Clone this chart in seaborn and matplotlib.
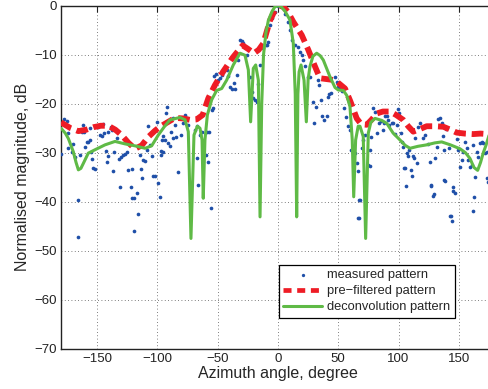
import numpy as np
import matplotlib
matplotlib.use('Agg')
import matplotlib.pyplot as plt
import seaborn as sns

# ---- values ------------------------------------------------------------
# measured pattern (blue dots)
meas_x = [-180, -177.3, -175.3, -173.9, -173.9, -171.1, -169.8, -168.4, -166.2, -165.6,
          -164.2, -162.8, -161.5, -160.7, -160.1, -158.7, -157.4, -155.9, -155.9, -155.1,
          -154.0, -153.2, -151.8, -149.1, -147.7, -146.2, -144.9, -144.1, -142.9, -142.1,
          -141.3, -140.8, -138.5, -137.9, -136.6, -135.8, -134.6, -133.3, -131.9, -131.1,
          -130.2, -128.3, -126.9, -125.5, -124.2, -121.9, -121.4, -120.9, -119.2, -119.2,
          -117.2, -115.9, -114.5, -113.6, -113.1, -111.7, -110.3, -108.9, -107.6, -106.2,
          -104.8, -103.4, -102.0, -100.6, -99.3, -97.9, -97.1, -96.0, -97.3, -95.6,
          -95.1, -93.7, -92.9, -91.8, -91.0, -89.6, -89.0, -87.4, -86.8, -85.4,
          -84.6, -82.7, -81.9, -80.7, -79.1, -77.1, -75.7, -74.4, -68.9, -67.4,
          -66.9, -66.1, -64.7, -63.3, -59.7, -58.6, -57.8, -57.0, -55.8, -55.0,
          -53.7, -52.8, -51.4, -49.5, -48.1, -46.7, -45.4, -44.0, -42.6, -41.2,
          -39.8, -38.4, -36.5, -35.7, -34.3, -32.9, -31.5, -30.1, -28.8, -27.4,
          -25.5, -23.2, -21.8, -20.5, -19.1, -17.7, -16.3, -14.9, -12.2, -9.9,
          -8.0, -9.4, -6.6, -4.7, -2.5, 0.2, 3.0, 5.7, 8.0, 9.9,
          11.8, 14.1, 16.3, 18.2, 19.7, 21.0, 22.4, 24.6, 26.5, 29.3,
          30.1, 31.3, 32.9, 34.0, 35.7, 36.8, 38.4, 40.4, 41.2, 42.3,
          44.0, 47.3, 48.7, 50.1, 51.4, 53.3, 55.0, 56.4, 58.3, 59.7,
          60.5, 63.9, 65.3, 66.1, 68.0, 67.2, 69.4, 70.7, 72.1, 74.9,
          76.3, 77.1, 79.1, 76.3, 80.5, 82.4, 84.0, 85.2, 86.8, 87.9,
          88.7, 90.2, 91.5, 92.3, 94.3, 95.7, 97.1, 98.5, 99.3, 100.6,
          101.8, 102.6, 104.0, 104.8, 106.0, 106.8, 108.1, 109.0, 110.1, 110.9,
          111.8, 112.8, 113.7, 115.0, 116.4, 117.8, 119.2, 120.5, 121.9, 124.7,
          126.1, 126.9, 128.3, 129.4, 130.2, 131.6, 132.9, 134.4, 135.8, 136.6,
          137.7, 138.5, 139.3, 140.4, 142.1, 143.2, 144.1, 145.4, 146.8, 148.7,
          149.5, 151.0, 152.4, 153.7, 155.1, 156.5, 157.8, 159.3, 160.7, 162.0,
          162.6, 163.7, 164.8, 166.2, 167.6, 169.0, 170.3, 171.7, 173.1, 173.6,
          174.4, 126.6, 137.7, 142.7, 145.0, 162.0, 105.3, 67.4, 66.6]
meas_y = [-30.3, -23.2, -23.5, -26.0, -29.1, -29.8, -28.2, -30.8, -39.7, -47.3,
          -30.5, -25.7, -24.3, -25.7, -28.8, -27.8, -27.8, -27.4, -25.0, -29.8,
          -31.3, -33.2, -33.4, -24.7, -26.4, -26.6, -24.1, -25.9, -29.6, -31.8,
          -30.7, -25.7, -24.7, -25.4, -33.7, -29.8, -25.4, -27.1, -31.3, -37.1,
          -30.8, -30.5, -30.3, -29.8, -33.5, -37.1, -33.4, -39.3, -39.3, -45.9,
          -38.3, -42.6, -30.5, -33.4, -35.2, -31.5, -31.6, -29.4, -24.6, -28.4,
          -30.7, -34.7, -34.7, -23.8, -36.2, -39.0, -29.6, -27.4, -30.5, -29.8,
          -26.6, -27.4, -21.8, -20.6, -28.1, -28.6, -25.7, -26.9, -23.0, -24.3,
          -26.7, -33.9, -23.0, -26.4, -24.0, -22.3, -23.0, -24.3, -25.4, -24.6,
          -31.1, -36.6, -26.4, -25.7, -30.5, -25.7, -32.0, -25.7, -41.3, -21.3,
          -20.9, -14.3, -13.9, -15.2, -14.8, -14.1, -13.5, -12.8, -13.1, -14.3,
          -16.6, -17.1, -15.7, -17.1, -14.1, -11.1, -7.1, -7.3, -7.7, -8.5,
          -10.1, -14.6, -17.7, -18.9, -19.2, -19.6, -16.0, -12.1, -8.7, -8.0,
          -7.5, -8.0, -3.9, -2.6, -1.2, 0.0, -0.2, -1.6, -3.3, -5.0,
          -7.0, -8.0, -8.4, -9.4, -10.1, -11.1, -12.4, -14.6, -14.5, -19.6,
          -23.9, -20.7, -15.2, -16.2, -19.2, -22.5, -23.3, -22.5, -18.6, -18.0,
          -17.9, -14.6, -15.5, -16.5, -16.7, -17.5, -20.9, -22.7, -24.6, -25.4,
          -29.4, -30.1, -32.2, -33.7, -39.7, -43.4, -29.1, -27.5, -26.4, -32.5,
          -29.4, -26.7, -20.9, -32.7, -21.6, -26.0, -24.0, -23.5, -25.4, -23.9,
          -22.6, -22.5, -23.3, -24.3, -23.9, -23.9, -26.2, -24.3, -21.1, -21.8,
          -26.0, -27.8, -28.8, -33.2, -36.8, -30.1, -30.7, -29.4, -33.5, -34.7,
          -30.7, -31.0, -27.1, -32.2, -24.7, -24.0, -24.8, -26.9, -26.4, -28.2,
          -32.0, -36.8, -38.8, -38.4, -31.1, -28.8, -23.2, -23.0, -24.0, -26.6,
          -29.4, -35.7, -25.2, -25.0, -29.1, -42.9, -43.9, -36.9, -38.3, -27.2,
          -29.4, -32.9, -31.5, -29.8, -27.8, -29.1, -31.5, -32.9, -32.5, -28.4,
          -39.0, -34.9, -29.9, -30.9, -28.1, -27.8, -28.1, -30.1, -29.9, -35.2,
          -35.9, -36.6, -35.6, -42.9, -37.8, -42.0, -33.2, -39.7, -43.4]

# pre-filtered pattern (red dashed)
pre_x = [-180, -178.1, -172, -165.6, -159, -153.2, -147, -140.8, -135, -129.7,
         -124, -118.6, -113, -107.6, -102, -97.9, -91, -85.4, -79, -73,
         -67.5, -62.5, -57.8, -52.3, -45.4, -37.6, -33, -29.3, -25, -19.9,
         -16, -12.2, -9, -6.6, -2, 1, 4.4, 8, 12.7, 19.7,
         25.1, 30, 34.8, 41, 47.3, 55.6, 60, 65.3, 69, 73.6,
         77.5, 81.9, 87, 92.9, 98, 103.9, 108, 112.2, 117.5, 123.3,
         130, 137.1, 143, 148.2, 155, 162, 168, 174.4, 180]
pre_y = [-23.8, -24.1, -25.0, -25.6, -25.3, -24.8, -24.5, -24.5, -25.3, -26.4,
         -28.0, -29.2, -28.5, -26.8, -25.5, -24.7, -23.7, -22.9, -23.0, -23.3,
         -23.2, -22.3, -18.9, -16.2, -13.4, -10.6, -9.2, -8.1, -8.8, -9.7,
         -9.0, -7.7, -5.0, -3.0, -0.6, 0.0, -0.2, -1.2, -3.3, -6.0,
         -9.0, -12.0, -14.8, -15.0, -15.2, -16.9, -19.5, -23.0, -24.2, -24.3,
         -23.3, -22.0, -21.6, -21.6, -22.3, -23.3, -24.6, -25.7, -25.2, -24.6,
         -24.6, -24.7, -25.3, -25.9, -26.1, -26.2, -26.1, -26.2, -26.0]

# deconvolution pattern (green)
dec_x = [-180, -176.5, -173.9, -169.8, -167.5, -165.6, -163.5, -161.5, -157.4, -151.8,
         -143.5, -135.2, -126.9, -118.6, -110.3, -104.8, -99.3, -94.3, -89.6, -81.3,
         -77.1, -74.4, -72.2, -69.7, -66.9, -64.7, -63, -62, -60.6, -58.6,
         -55, -50.9, -46.7, -42.6, -37.1, -31.5, -27.4, -24.6, -22.7, -20.5,
         -18.5, -16.3, -14.9, -13.5, -12, -10, -8, -5, -2.5, 0.5,
         3, 6, 9.9, 12.7, 14.3, 15.5, 16.5, 17.5, 19.1, 21.6,
         23.5, 25, 26.5, 29, 32.1, 35, 37.6, 43.1, 47.3, 50,
         54.2, 57, 59.7, 61.6, 62.8, 64.4, 66.5, 68, 70.7, 72.7,
         74.9, 77, 80.5, 86, 90.2, 95.5, 101.2, 105.5, 109.5, 116,
         123.3, 130, 135.8, 143, 151, 155.5, 159.3, 162.5, 165.6, 168,
         170.3, 172.5, 175, 180]
dec_y = [-25.0, -26.0, -27.1, -29.8, -32.0, -33.5, -33.2, -32.2, -30.1, -29.4,
         -28.4, -27.7, -28.2, -28.6, -29.1, -28.6, -26.4, -24.7, -23.3, -22.8,
         -23.3, -25.7, -47.5, -26.4, -24.6, -25.0, -27.4, -39.3, -27.4, -22.3,
         -19.2, -17.3, -16.9, -15.2, -12.1, -9.7, -10.1, -13.1, -23.7, -12.8,
         -12.1, -15.2, -43.1, -20.0, -10.0, -5.5, -3.0, -1.2, -0.2, 0.0,
         -0.3, -1.2, -2.9, -7.7, -18.0, -43.1, -18.0, -13.5, -12.1, -15.2,
         -23.7, -15.0, -12.4, -10.3, -9.7, -10.2, -11.1, -14.5, -16.7, -17.2,
         -17.3, -18.3, -20.6, -27.4, -39.0, -27.4, -24.6, -24.6, -26.7, -47.5,
         -26.0, -23.8, -23.0, -23.4, -24.0, -26.0, -27.4, -28.5, -29.1, -28.7,
         -28.4, -28.0, -27.8, -28.4, -29.2, -30.0, -31.2, -33.0, -33.6, -32.0,
         -30.0, -28.5, -26.5, -24.5]

x_ticks = [-150, -100, -50, 0, 50, 100, 150]
y_ticks = [-70, -60, -50, -40, -30, -20, -10, 0]

# ---- plot ---------------------------------------------------------------
sns.set_style('white')
plt.rcParams['font.family'] = ['Liberation Sans', 'DejaVu Sans']

fig = plt.figure(figsize=(4.89, 3.89), dpi=100)
ax = fig.add_axes([61 / 489, 40.3 / 389, 434 / 489, 343 / 389])

sns.scatterplot(x=meas_x, y=meas_y, ax=ax, color='#1f4fa8', s=7, linewidth=0,
                label='measured pattern', zorder=3)
sns.lineplot(x=pre_x, y=pre_y, ax=ax, color='#ee1c25', linewidth=4.2,
             linestyle=(0, (2.0, 1.0)), sort=False, estimator=None,
             label='pre\u2212filtered pattern', zorder=4)
sns.lineplot(x=dec_x, y=dec_y, ax=ax, color='#5fba46', linewidth=2.2,
             sort=False, estimator=None, label='deconvolution pattern', zorder=5)

ax.set_xlim(-180, 180)
ax.set_ylim(-70, 0)
ax.set_xticks(x_ticks)
ax.set_yticks(y_ticks)
ax.grid(True, linestyle=(0, (1, 3)), color='#555555', linewidth=0.6)
ax.tick_params(direction='in', length=4, width=0.8, labelsize=9.5,
               top=True, right=True, colors='#222222', pad=3)
for sp in ax.spines.values():
    sp.set_color('#222222')
    sp.set_linewidth(1.0)

ax.set_xlabel('Azimuth angle, degree', fontsize=11.5, labelpad=1)
ax.set_ylabel('Normalised magnitude, dB', fontsize=11.5, labelpad=3)

leg = ax.legend(loc='lower right', bbox_to_anchor=(0.922, 0.072), fontsize=9.3,
                frameon=True, fancybox=False, framealpha=1, edgecolor='black',
                handlelength=3.0, labelspacing=0.3, borderpad=0.35,
                handletextpad=0.4, markerscale=0.9)
leg.get_frame().set_linewidth(0.9)
for h in leg.get_lines():
    if h.get_color() == '#ee1c25':
        h.set_linewidth(3.4)
        h.set_dashes([1.7, 1.2])

fig.savefig('out.png', dpi=100)
